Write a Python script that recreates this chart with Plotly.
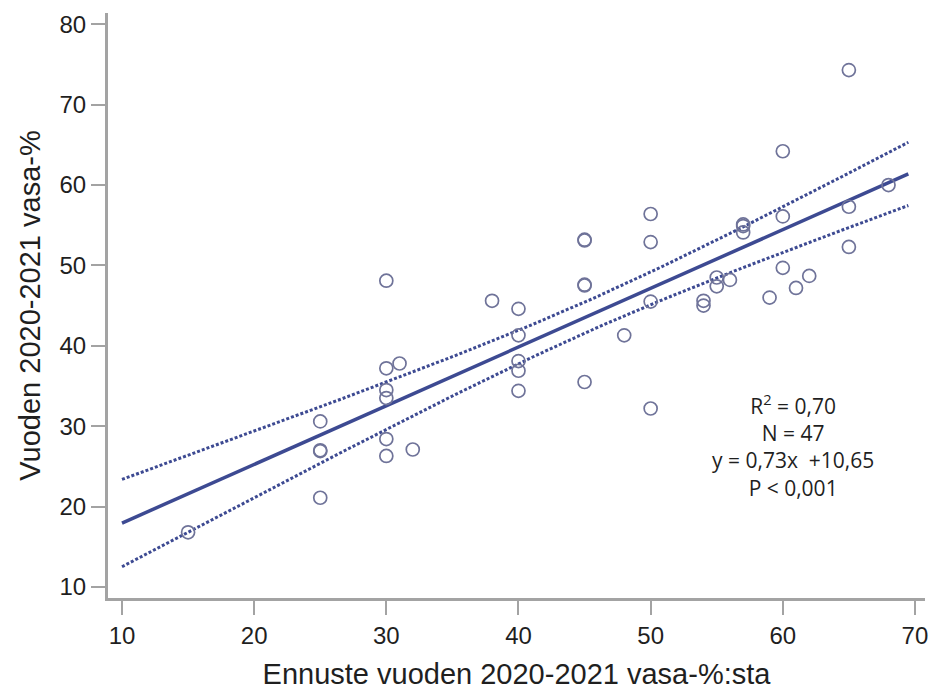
import numpy as np
import plotly.graph_objects as go

# Observed data: forecast (x) vs realised (y) calf percentage
forecast = [15,
            25, 25, 25, 25,
            30, 30, 30, 30, 30, 30,
            31, 32, 38,
            40, 40, 40, 40, 40,
            45, 45, 45, 45, 45,
            48,
            50, 50, 50, 50,
            54, 54, 55, 55, 56,
            57, 57, 57,
            59,
            60, 60, 60,
            61, 62,
            65, 65, 65,
            68]
actual = [16.8,
          30.6, 27.0, 26.9, 21.1,
          48.1, 37.2, 34.5, 33.5, 28.4, 26.3,
          37.8, 27.1, 45.6,
          44.6, 41.3, 38.1, 36.9, 34.4,
          53.2, 53.1, 47.6, 47.5, 35.5,
          41.3,
          56.4, 52.9, 45.5, 32.2,
          45.6, 45.0, 48.5, 47.4, 48.2,
          55.1, 54.9, 54.1,
          46.0,
          64.2, 56.1, 49.7,
          47.2, 48.7,
          74.3, 57.3, 52.3,
          60.0]

# Reported regression results
slope = 0.73
intercept = 10.65
fit_x_range = [10, 69.5]
t_crit = 2.014  # t(0.975, df=45)

stats_lines = ["R<sup>2</sup> = 0,70", "N = 47", "y = 0,73x  +10,65", "P < 0,001"]

x_ticks = [10, 20, 30, 40, 50, 60, 70]
y_ticks = [10, 20, 30, 40, 50, 60, 70, 80]

# Regression line and 95% CI of the mean, from the data
xa = np.array(forecast, dtype=float)
ya = np.array(actual, dtype=float)
n = len(xa)
resid = ya - (intercept + slope * xa)
s = np.sqrt(np.sum(resid ** 2) / (n - 2))
xbar = xa.mean()
sxx = np.sum((xa - xbar) ** 2)
xg = np.linspace(fit_x_range[0], fit_x_range[1], 120)
yg = intercept + slope * xg
half = t_crit * s * np.sqrt(1.0 / n + (xg - xbar) ** 2 / sxx)

line_col = "#3d4a92"
pt_col = "#6f7399"
axis_col = "#a3a3a3"
txt_col = "#1f1f1f"
tick_font = dict(family="Liberation Sans, Arial", size=24, color=txt_col)
title_font = dict(family="Liberation Sans, Arial", size=29, color=txt_col)

fig = go.Figure()
fig.add_trace(go.Scatter(x=xg, y=yg + half, mode="lines",
                         line=dict(color=line_col, width=3, dash="3px,2px"),
                         showlegend=False, hoverinfo="skip"))
fig.add_trace(go.Scatter(x=xg, y=yg - half, mode="lines",
                         line=dict(color=line_col, width=3, dash="3px,2px"),
                         showlegend=False, hoverinfo="skip"))
fig.add_trace(go.Scatter(x=xg, y=yg, mode="lines",
                         line=dict(color=line_col, width=3.5),
                         showlegend=False, hoverinfo="skip"))
fig.add_trace(go.Scatter(x=forecast, y=actual, mode="markers",
                         marker=dict(symbol="circle-open", size=13,
                                     line=dict(color=pt_col, width=1.7),
                                     color=pt_col),
                         showlegend=False))

fig.add_annotation(x=60.76, y=27.6, xref="x", yref="y",
                   text="<br>".join(stats_lines), showarrow=False,
                   align="center", xanchor="center", yanchor="middle",
                   font=dict(family="Open Sans", size=21, color=txt_col))

fig.update_xaxes(range=[8.94, 70.76], tickvals=x_ticks, automargin=False,
                 showgrid=False, zeroline=False,
                 showline=True, linewidth=3, linecolor=axis_col,
                 ticks="outside", ticklen=14, tickwidth=1.5, tickcolor=axis_col,
                 tickfont=tick_font,
                 title=dict(text="Ennuste vuoden 2020-2021 vasa-%:sta", standoff=16,
                            font=title_font))
fig.update_yaxes(range=[8.63, 81.4], tickvals=y_ticks, automargin=False,
                 showgrid=False, zeroline=False,
                 showline=True, linewidth=3, linecolor=axis_col,
                 ticks="outside", ticklen=14, tickwidth=1.5, tickcolor=axis_col,
                 tickfont=tick_font,
                 title=dict(text="Vuoden 2020-2021 vasa-%", standoff=11,
                            font=title_font))

fig.update_layout(width=931, height=693,
                  margin=dict(l=108, r=6, t=13, b=95),
                  plot_bgcolor="white", paper_bgcolor="white",
                  showlegend=False)

# remove the page's default body margin so the figure fills the window exactly
fig.write_html("out.html", config={"displayModeBar": False},
               post_script="document.body.style.margin='0';document.body.style.overflow='hidden';")
